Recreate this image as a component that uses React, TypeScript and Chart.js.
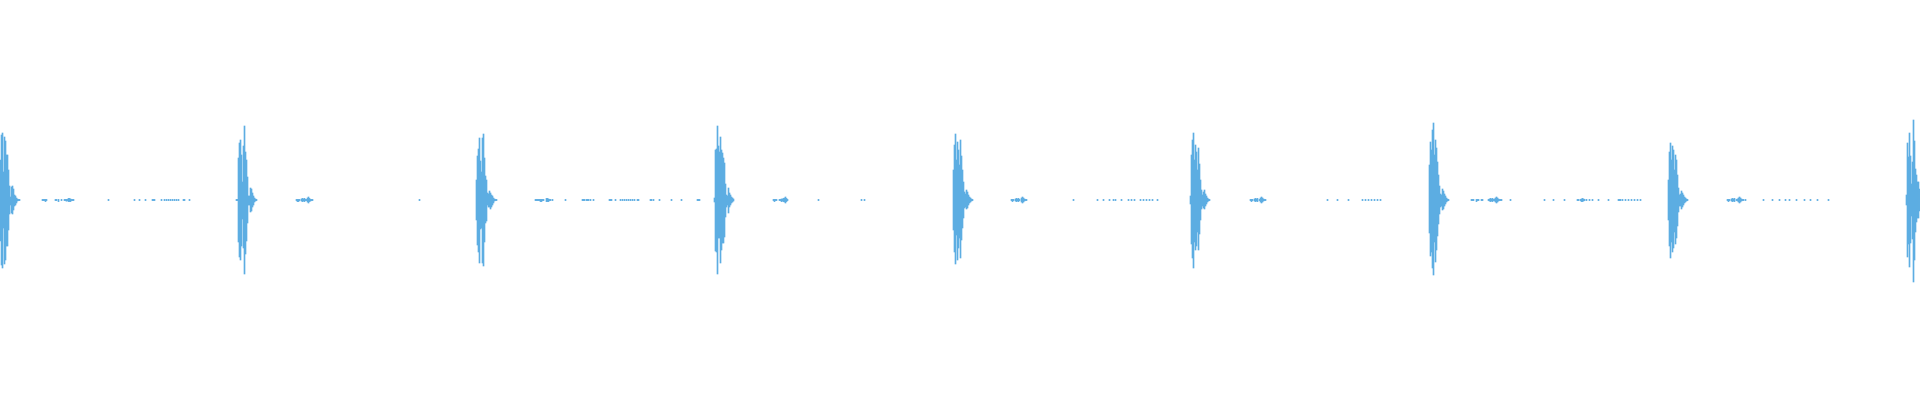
import React, { useEffect, useRef } from "react";
import { Chart, registerables } from "chart.js";

Chart.register(...registerables);

// Amplitude in % of full scale (y axis spans -100..100). Each burst lists consecutive sample columns.
const burst1Start = 0;
const burst1Top = [20, 32.5, 33.5, 14, 31.5, 29.5, 22.5, 22.5, 15, 7, 1.5, 6.5, 7, 5.5, 2.5, 2, 1, 0.5, 0.3, 0.3];
const burst1Bottom = [-20.5, -32.5, -34, -14, -32, -30, -23, -23, -15, -7, -2.5, -6.5, -7, -5, -3, -2.5, -1.5, -0.5, -0.3, -0.3];

const burst2Start = 236;
const burst2Top = [0.3, 0.3, 21, 28.5, 30, 22.5, 9, 27, 37, 24, 20, 11.5, 2, 2, 6, 5.5, 3.5, 2, 1, 0.5, 0.3];
const burst2Bottom = [-0.3, -0.3, -21, -28.5, -30, -23, -9.5, -24, -37, -27, -20.5, -11.5, -2.5, -2.5, -6, -5.5, -3.5, -2.5, -1, -0.5, -0.3];

const burst3Start = 476;
const burst3Top = [10, 22, 25.5, 31, 19.5, 14, 31, 33, 21, 12, 10, 3.5, 3, 4.5, 3.5, 2.5, 2, 1, 0.5, 0.3, 0.3];
const burst3Bottom = [-10, -22.5, -26, -31.5, -14.5, -14, -31.5, -33, -21, -11.5, -10.5, -2.5, -3.5, -3.5, -4.5, -3.5, -2.5, -1.5, -0.5, -0.3, -0.3];

const burst4Start = 714;
const burst4Top = [1, 25, 25.5, 37, 27, 24, 31.5, 25, 23.5, 21, 18.5, 8, 2.5, 2, 6, 3.5, 2.5, 1.5, 1, 0.5];
const burst4Bottom = [-1, -25.5, -26, -37, -19, -19, -31.5, -25, -21.5, -21.5, -18.5, -8.5, -3.5, -2.5, -6.5, -3.5, -2.5, -1.5, -1, -0.5];

const burst5Start = 953;
const burst5Top = [15, 27.5, 33, 20, 29, 25, 17.5, 30, 22, 15, 9, 4, 3, 5, 4, 2.5, 1.5, 1, 0.5, 0.3];
const burst5Bottom = [-15, -26, -32, -17.5, -30, -24, -19, -29, -20, -14, -9, -4, -3.5, -4.5, -4, -2.5, -1.5, -1, -0.5, -0.3];

const burst6Start = 1190;
const burst6Top = [2, 22.5, 30, 33.5, 20, 27.5, 24, 15, 26, 18, 10, 5, 2.5, 4, 5, 3, 2, 1, 0.5, 0.3];
const burst6Bottom = [-2, -22, -29, -34, -21, -25, -23, -16, -25, -17, -10, -4.5, -3, -4, -4.5, -3, -2, -1, -0.5, -0.3];

const burst7Start = 1429;
const burst7Top = [17.5, 29, 25, 35, 38.5, 22.5, 30, 26, 19, 12.5, 7, 3, 2.5, 5.5, 4.5, 3, 2, 1, 0.5, 0.3];
const burst7Bottom = [-16.5, -28, -26, -34, -37.5, -21, -31, -25, -18, -12, -7, -3.5, -3, -5, -4.5, -3, -2, -1, -0.5, -0.3];

const burst8Start = 1668;
const burst8Top = [10, 24, 28.5, 20, 27, 25, 15, 22.5, 20, 12.5, 6, 2.5, 3, 4.5, 3.5, 2.5, 1.5, 1, 0.5, 0.3];
const burst8Bottom = [-10, -23, -29, -21, -26, -24, -16, -22, -19, -13, -6, -3, -3, -4.5, -3.5, -2.5, -1.5, -1, -0.5, -0.3];

const burst9Start = 1906;
const burst9Top = [2.5, 28.5, 21.5, 33.5, 22, 8, 19, 40, 29.5, 15.5, 12.5, 9, 9, 5.5];
const burst9Bottom = [-2.5, -28.5, -22, -33.5, -21.5, -8, -19.5, -41, -30, -16, -11, -9, -9, -5.5];

// Quiet samples between bursts: [column, top, bottom]
const quietSamples: [number, number, number][] = [
  [42, 0.3, -0.3], [43, 0.3, -0.3], [44, 0.3, -0.3], [45, 0.3, -0.8], [46, 0.3, -0.3], [55, 0.3, -0.3], [56, 0.3, -0.3],
  [58, 0.3, -0.8], [61, 0.3, -0.3], [64, 0.3, -0.3], [65, 0.3, -0.3], [66, 0.3, -0.6], [67, 0.3, -0.3], [68, 0.8, -0.8],
  [69, 0.8, -0.8], [70, 0.5, -0.8], [71, 0.3, -0.3], [72, 0.3, -0.3], [73, 0.3, -0.3], [108, 0.3, -0.3], [134, 0.3, -0.3],
  [139, 0.3, -0.3], [145, 0.3, -0.3], [152, 0.3, -0.3], [153, 0.3, -0.3], [154, 0.3, -0.3], [161, 0.3, -0.3], [164, 0.3, -0.3],
  [166, 0.3, -0.3], [168, 0.3, -0.3], [170, 0.3, -0.3], [172, 0.3, -0.3], [174, 0.3, -0.3], [176, 0.3, -0.3], [178, 0.3, -0.3],
  [183, 0.3, -0.3], [184, 0.3, -0.3], [189, 0.3, -0.3],

  [296, 0.3, -0.3], [297, 0.3, -0.8], [298, 0.3, -0.8], [299, 0.3, -0.3], [301, 0.5, -0.5], [302, 0.8, -0.8], [303, 0.5, -0.5],
  [304, 0.8, -0.8], [305, 0.3, -0.3], [306, 0.3, -0.3], [307, 1, -1], [308, 1.5, -1.5], [309, 0.8, -0.8], [310, 0.3, -0.5],
  [311, 0.3, -0.3], [312, 0.3, -0.3], [419, 0.3, -0.3],

  [535, 0.3, -0.3], [536, 0.3, -0.3], [537, 0.3, -0.3], [538, 0.3, -0.3], [539, 0.3, -0.3], [540, 0.3, -0.8], [541, 0.3, -0.8],
  [542, 0.3, -0.3], [543, 0.3, -0.3], [546, 0.8, -0.8], [547, 0.8, -0.8], [548, 0.5, -0.8], [549, 0.3, -0.3], [550, 0.3, -0.3],
  [552, 0.3, -0.3], [565, 0.3, -0.3], [582, 0.3, -0.3], [583, 0.3, -0.3], [584, 0.3, -0.3], [586, 0.3, -0.3], [587, 0.3, -0.3],
  [588, 0.3, -0.3], [590, 0.3, -0.3], [593, 0.3, -0.3], [609, 0.3, -0.3], [610, 0.3, -0.3], [611, 0.3, -0.3], [615, 0.3, -0.3],
  [620, 0.3, -0.3], [622, 0.3, -0.3], [624, 0.3, -0.3], [626, 0.3, -0.3], [628, 0.3, -0.3], [630, 0.3, -0.3], [632, 0.3, -0.3],
  [634, 0.3, -0.3], [637, 0.3, -0.3], [638, 0.3, -0.3], [650, 0.3, -0.3], [651, 0.3, -0.3], [653, 0.3, -0.3], [659, 0.3, -0.3],
  [671, 0.3, -0.3], [681, 0.3, -0.3], [697, 0.3, -0.3], [698, 0.3, -0.3], [699, 0.3, -0.3],

  [773, 0.3, -0.3], [774, 0.3, -0.8], [775, 0.3, -0.3], [776, 0.3, -0.3], [779, 0.3, -0.3], [780, 0.3, -0.3], [781, 0.5, -0.8],
  [782, 0.5, -0.5], [783, 0.8, -0.8], [784, 1, -1], [785, 1.5, -1.5], [786, 0.8, -0.8], [787, 0.3, -0.3], [818, 0.3, -0.3],
  [861, 0.3, -0.3], [864, 0.3, -0.3],

  [1011, 0.3, -0.3], [1012, 0.3, -0.8], [1013, 0.3, -0.3], [1015, 0.5, -0.5], [1016, 0.8, -0.8], [1017, 0.5, -0.5],
  [1018, 0.8, -0.8], [1019, 0.3, -0.3], [1021, 1, -1], [1022, 1.5, -1.5], [1023, 1, -1], [1024, 0.5, -0.5], [1025, 0.3, -0.3],
  [1026, 0.3, -0.3], [1073, 0.3, -0.3], [1097, 0.3, -0.3], [1103, 0.3, -0.3], [1109, 0.3, -0.3], [1113, 0.3, -0.3],
  [1115, 0.3, -0.3], [1121, 0.3, -0.3], [1128, 0.3, -0.3], [1131, 0.3, -0.3], [1134, 0.3, -0.3], [1140, 0.3, -0.3],
  [1143, 0.3, -0.3], [1146, 0.3, -0.3], [1149, 0.3, -0.3], [1152, 0.3, -0.3], [1157, 0.3, -0.3],

  [1250, 0.3, -0.3], [1251, 0.3, -0.8], [1252, 0.3, -0.3], [1254, 0.5, -0.5], [1255, 0.8, -0.8], [1256, 0.5, -0.5],
  [1257, 0.8, -0.8], [1259, 0.3, -0.3], [1260, 1, -1], [1261, 1.5, -1.5], [1262, 1, -1], [1263, 0.5, -0.5], [1264, 0.3, -0.3],
  [1265, 0.3, -0.3], [1327, 0.3, -0.3], [1337, 0.3, -0.3], [1348, 0.3, -0.3], [1362, 0.3, -0.3], [1365, 0.3, -0.3],
  [1368, 0.3, -0.3], [1371, 0.3, -0.3], [1374, 0.3, -0.3], [1377, 0.3, -0.3], [1380, 0.3, -0.3],

  [1471, 0.3, -0.3], [1472, 0.3, -0.3], [1473, 0.3, -0.3], [1476, 0.3, -0.8], [1477, 0.3, -0.3], [1478, 0.3, -0.3],
  [1481, 0.3, -0.3], [1482, 0.3, -0.3], [1488, 0.3, -0.3], [1489, 0.5, -0.5], [1490, 0.8, -0.8], [1491, 0.5, -0.5],
  [1492, 0.8, -0.8], [1493, 0.3, -0.3], [1494, 0.5, -0.5], [1495, 1, -1], [1496, 1.5, -1.5], [1497, 1, -1], [1498, 0.5, -0.5],
  [1499, 0.3, -0.3], [1500, 0.3, -0.3], [1501, 0.3, -0.3], [1510, 0.3, -0.3], [1544, 0.3, -0.3], [1553, 0.3, -0.3],
  [1564, 0.3, -0.3], [1577, 0.3, -0.3], [1578, 0.3, -0.3], [1580, 0.3, -0.3], [1581, 0.5, -0.8], [1582, 0.8, -0.8],
  [1583, 0.5, -0.5], [1584, 0.3, -0.3], [1586, 0.3, -0.3], [1589, 0.3, -0.3], [1592, 0.3, -0.3], [1598, 0.3, -0.3],
  [1608, 0.3, -0.3], [1618, 0.3, -0.3], [1619, 0.3, -0.3], [1620, 0.3, -0.3], [1622, 0.3, -0.3], [1625, 0.3, -0.3],
  [1628, 0.3, -0.3], [1631, 0.3, -0.3], [1634, 0.3, -0.3], [1637, 0.3, -0.3], [1640, 0.3, -0.3],

  [1727, 0.3, -0.3], [1728, 0.3, -0.8], [1729, 0.3, -0.3], [1731, 0.5, -0.5], [1732, 0.8, -0.8], [1733, 0.5, -0.5],
  [1734, 0.8, -0.8], [1736, 0.3, -0.3], [1737, 0.5, -0.5], [1738, 1, -1], [1739, 1.5, -1.5], [1740, 1, -1], [1741, 0.5, -0.5],
  [1742, 0.3, -0.3], [1743, 0.3, -0.3], [1745, 0.3, -0.3], [1763, 0.3, -0.3], [1772, 0.3, -0.3], [1779, 0.3, -0.3],
  [1785, 0.3, -0.3], [1789, 0.3, -0.3], [1796, 0.3, -0.3], [1804, 0.3, -0.3], [1810, 0.3, -0.3], [1817, 0.3, -0.3],
  [1828, 0.3, -0.3],
];

const bursts: [number, number[], number[]][] = [
  [burst1Start, burst1Top, burst1Bottom],
  [burst2Start, burst2Top, burst2Bottom],
  [burst3Start, burst3Top, burst3Bottom],
  [burst4Start, burst4Top, burst4Bottom],
  [burst5Start, burst5Top, burst5Bottom],
  [burst6Start, burst6Top, burst6Bottom],
  [burst7Start, burst7Top, burst7Bottom],
  [burst8Start, burst8Top, burst8Bottom],
  [burst9Start, burst9Top, burst9Bottom],
];

const WAVE_COLOR = "#5DADE2";

export default function App() {
  const canvasRef = useRef<HTMLCanvasElement | null>(null);

  useEffect(() => {
    document.body.style.margin = "0";
    const canvas = canvasRef.current;
    if (!canvas) return;

    const points: { x: number; y: [number, number] }[] = [];
    bursts.forEach(([start, top, bottom]) => {
      top.forEach((t, i) => points.push({ x: start + i, y: [bottom[i], t] }));
    });
    quietSamples.forEach(([x, t, b]) => points.push({ x, y: [b, t] }));
    points.sort((a, b) => a.x - b.x);

    const chart = new Chart(canvas, {
      type: "bar",
      data: {
        datasets: [
          {
            data: points as any,
            backgroundColor: WAVE_COLOR,
            borderWidth: 0,
            barThickness: 1,
            grouped: false,
          } as any,
        ],
      },
      options: {
        animation: false,
        responsive: true,
        maintainAspectRatio: false,
        devicePixelRatio: 1,
        layout: { padding: 0 },
        plugins: { legend: { display: false }, tooltip: { enabled: false } },
        scales: {
          x: { type: "linear", min: -0.5, max: 1919.5, display: false, offset: false },
          y: { min: -100, max: 100, display: false },
        },
      },
    });
    return () => chart.destroy();
  }, []);

  return (
    <div style={{ width: 1920, height: 400, position: "relative", background: "#ffffff" }}>
      <canvas ref={canvasRef} />
    </div>
  );
}
